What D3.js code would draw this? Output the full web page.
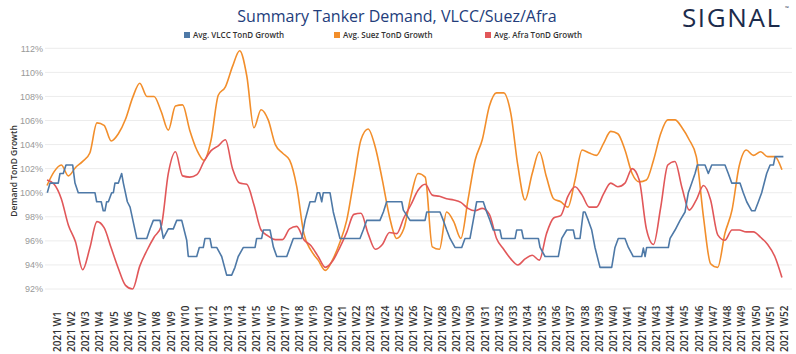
<!DOCTYPE html>
<html>
<head>
<meta charset="utf-8">
<script src="https://cdn.jsdelivr.net/npm/d3@7"></script>
<style>
  body { margin: 0; background: #fff; }
  svg { display: block; font-family: "Open Sans", sans-serif; }
</style>
</head>
<body>
<svg id="chart" width="796" height="354"></svg>
<script>
// week labels on the x axis and the y ticks (percent)
const weekLabels = d3.range(1, 53).map(w => `2021 W${w}`);
const yTicks = d3.range(92, 113, 2);

// suez and afra are sampled every half week, starting just before W1
const firstWeek = 0.3;
const weekStep = 0.5;

// vlcc moves in steps, so it is kept as breakpoints (week position, value)
const vlccWeeks = [
  0.32, 0.51, 1.09, 1.21, 1.44, 1.63, 2.10, 2.26, 2.49, 3.66, 3.78, 4.10, 4.24, 4.36, 4.48, 4.60,
  4.83, 4.95, 5.06, 5.30, 5.53, 5.65, 5.93, 6.12, 6.59, 7.29, 7.52, 7.75, 8.22, 8.45, 8.80, 9.15,
  9.39, 9.74, 10.09, 10.20, 10.79, 10.97, 11.25, 11.37, 11.72, 11.84, 12.19, 12.54, 12.89, 13.24,
  13.47, 13.70, 14.06, 14.88, 14.99, 15.34, 15.46, 15.93, 16.16, 16.40, 17.10, 17.33, 17.56, 18.15,
  18.38, 18.73, 19.08, 19.24, 19.40, 19.55, 19.66, 20.13, 20.36, 20.83, 22.23, 22.46, 22.70, 23.63,
  23.87, 24.10, 25.16, 25.27, 25.74, 26.79, 26.91, 27.84, 28.07, 28.31, 28.54, 28.89, 29.36, 29.59,
  29.94, 30.17, 30.41, 30.87, 31.11, 31.34, 31.57, 32.04, 32.16, 33.10, 33.21, 33.56, 33.68, 34.73,
  34.85, 35.20, 36.13, 36.37, 36.72, 37.18, 37.30, 37.65, 37.88, 38.00, 38.23, 38.47, 38.70, 39.05,
  39.87, 40.10, 40.33, 40.80, 41.04, 41.38, 41.97, 42.09, 42.21, 42.32, 43.84, 43.96, 44.31, 44.66,
  45.01, 45.24, 45.48, 45.71, 45.87, 46.41, 46.64, 46.88, 47.81, 48.04, 48.28, 48.86, 49.09, 49.33,
  49.68, 49.91, 50.15, 50.38, 50.73, 50.97, 51.20, 51.32, 51.90
];
const vlccValues = [
  100.0, 100.8, 100.8, 101.6, 101.6, 102.3, 102.3, 100.8, 100.0, 100.0, 99.25, 99.25, 98.5, 98.5, 99.25, 99.25,
  100.0, 100.0, 100.8, 100.8, 101.6, 100.8, 99.25, 98.8, 96.2, 96.2, 97.0, 97.7, 97.7, 96.2, 97.0, 97.0,
  97.7, 97.7, 96.05, 94.7, 94.7, 95.45, 95.45, 96.2, 96.2, 95.45, 95.45, 94.7, 93.15, 93.15,
  93.8, 94.7, 95.45, 95.45, 96.2, 96.2, 96.9, 96.9, 95.5, 94.7, 94.7, 95.45, 96.2, 96.2,
  97.7, 99.25, 99.25, 100.0, 100.0, 99.25, 100.0, 100.0, 98.4, 96.2, 96.2, 96.9, 97.7, 97.7,
  98.4, 99.25, 99.25, 98.55, 97.7, 97.7, 98.4, 98.4, 97.7, 96.9, 96.2, 95.45, 95.45, 96.2,
  96.2, 97.7, 99.25, 99.25, 98.4, 97.7, 96.9, 96.9, 96.2, 96.2, 96.9, 96.9, 96.2, 96.2,
  95.45, 94.7, 94.7, 96.2, 96.9, 96.9, 96.2, 96.2, 98.4, 98.4, 97.7, 96.9, 95.45, 93.8,
  93.8, 95.45, 96.2, 96.2, 95.45, 94.7, 94.7, 95.4, 94.7, 95.45, 95.45, 96.2, 96.9, 97.7,
  98.4, 100.0, 100.8, 101.6, 102.3, 102.3, 101.6, 102.3, 102.3, 101.6, 100.8, 100.8, 100.0, 99.25,
  98.5, 98.5, 99.25, 100.0, 101.6, 102.3, 102.3, 103.0, 103.0
];

const suez = [
  100.6, 101.75, 102.3, 101.4, 102.1, 102.6, 103.3, 105.8, 105.6, 104.3, 104.9, 106.1, 107.9, 109.1,
  108.0, 108.0, 106.75, 105.2, 107.2, 107.3, 105.2, 103.55, 102.7, 104.4, 108.1, 108.8, 110.5, 111.8,
  109.7, 105.4, 106.9, 106.05, 104.0, 103.3, 102.7, 100.5, 96.6, 95.2, 94.4, 93.55, 94.4,
  95.8, 97.7, 101.05, 104.4, 105.3, 103.8, 101.05, 98.0, 96.2, 97.0, 99.7, 101.6, 101.3,
  95.5, 95.3, 98.4, 97.6, 96.2, 99.4, 102.7, 104.4, 107.2, 108.3, 108.3, 106.6, 102.2,
  99.4, 101.6, 103.4, 101.3, 99.5, 99.25, 98.8, 101.05, 103.55, 103.3, 103.1, 104.1, 105.1,
  104.9, 103.55, 101.6, 100.9, 101.05, 102.7, 104.9, 106.05, 106.05, 105.4, 104.4, 103.0,
  98.0, 94.1, 93.8, 96.6, 98.55, 102.2, 103.55, 103.1, 103.4, 103.0, 103.0, 101.9
];

const afra = [
  101.05, 100.7, 99.5, 97.3, 95.9, 93.6, 95.4, 97.6, 97.1, 95.4, 93.7, 92.3, 92.0, 93.9,
  95.2, 96.3, 97.2, 101.6, 103.4, 101.4, 101.3, 101.5, 102.6, 103.5, 103.9, 104.4, 102.0, 100.8,
  100.7, 99.0, 96.9, 96.4, 96.1, 96.1, 97.0, 97.2, 96.1, 95.6, 94.7, 93.8, 94.3,
  95.4, 96.7, 98.2, 98.3, 96.6, 95.3, 95.7, 96.7, 96.6, 97.9, 99.0, 100.2, 100.7,
  99.8, 99.7, 99.5, 99.4, 99.2, 98.7, 98.5, 98.7, 98.2, 96.2, 95.3, 94.5, 94.0,
  94.5, 94.8, 94.4, 96.6, 97.9, 98.1, 99.7, 100.5, 99.8, 98.8, 98.8, 99.9, 100.8,
  100.5, 100.8, 102.0, 101.05, 97.0, 95.7, 98.75, 102.3, 102.6, 100.4, 98.55, 99.4,
  100.6, 99.4, 96.5, 96.05, 96.9, 96.9, 96.75, 96.75, 96.3, 95.7, 94.7, 92.95
];

const seriesNames = ["Avg. VLCC TonD Growth", "Avg. Suez TonD Growth", "Avg. Afra TonD Growth"];
const seriesColors = ["#4e79a7", "#f28e2b", "#e15759"];

const plot = {left: 45, right: 792, top: 48.3, bottom: 289};

const svg = d3.select("#chart");

const x = d3.scaleLinear().domain([1, 52]).range([57, 784.8]);
const y = d3.scaleLinear().domain([92, 112]).range([plot.bottom, plot.top]);

const sampled = values => values.map((v, i) => [firstWeek + i * weekStep, v]);
const paired = (weeks, values) => weeks.map((w, i) => [w, values[i]]);

// gridlines
svg.append("g")
  .selectAll("line")
  .data(yTicks)
  .join("line")
  .attr("x1", plot.left).attr("x2", plot.right)
  .attr("y1", d => y(d)).attr("y2", d => y(d))
  .attr("stroke", "#ececec")
  .attr("stroke-width", 1);

// y axis
const yAxis = svg.append("g")
  .attr("transform", `translate(${plot.left - 2},0)`)
  .call(d3.axisLeft(y).tickValues(yTicks).tickFormat(d => `${d}%`).tickSize(0).tickPadding(0));
yAxis.select(".domain").remove();
yAxis.selectAll("text")
  .attr("fill", "#999")
  .style("font-size", "9px");

svg.append("text")
  .attr("transform", "translate(14,171) rotate(-90)")
  .attr("text-anchor", "middle")
  .attr("dy", "0.35em")
  .attr("fill", "#333")
  .style("font-size", "8.5px")
  .style("font-weight", 600)
  .text("Demand TonD Growth");

// x axis labels, rotated and sitting on the bottom edge
svg.append("g")
  .selectAll("text")
  .data(weekLabels)
  .join("text")
  .attr("transform", (d, i) => `translate(${x(i + 1)},352) rotate(-90)`)
  .attr("dy", "0.35em")
  .attr("text-anchor", "start")
  .attr("fill", "#333")
  .style("font-size", "10px")
  .style("font-weight", 600)
  .text(d => d);

// lines: suez first, then afra, vlcc on top
const smoothLine = d3.line().x(d => x(d[0])).y(d => y(d[1])).curve(d3.curveMonotoneX);
const straightLine = d3.line().x(d => x(d[0])).y(d => y(d[1]));

const lines = [
  {points: sampled(suez), color: seriesColors[1], gen: smoothLine},
  {points: sampled(afra), color: seriesColors[2], gen: smoothLine},
  {points: paired(vlccWeeks, vlccValues), color: seriesColors[0], gen: straightLine},
];

svg.append("g")
  .selectAll("path")
  .data(lines)
  .join("path")
  .attr("d", d => d.gen(d.points))
  .attr("fill", "none")
  .attr("stroke", d => d.color)
  .attr("stroke-width", 1.6)
  .attr("stroke-linejoin", "round");

// title
svg.append("text")
  .attr("x", 397).attr("y", 22)
  .attr("text-anchor", "middle")
  .attr("fill", "#233d7b")
  .style("font-size", "16px")
  .text("Summary Tanker Demand, VLCC/Suez/Afra");

// legend
const legendX = [184, 334, 485];
const legend = svg.append("g")
  .selectAll("g")
  .data(seriesNames)
  .join("g")
  .attr("transform", (d, i) => `translate(${legendX[i]},35)`);
legend.append("rect")
  .attr("x", 0).attr("y", -3).attr("width", 6).attr("height", 6)
  .attr("fill", (d, i) => seriesColors[i]);
legend.append("text")
  .attr("x", 9).attr("dy", "0.35em")
  .attr("fill", "#333")
  .style("font-size", "8px")
  .style("font-weight", 600)
  .text(d => d);

// logo
svg.append("text")
  .attr("x", 682).attr("y", 27)
  .attr("fill", "#1c2b4b")
  .style("font-size", "26px")
  .style("letter-spacing", "1.6px")
  .text("SIGNAL");
svg.append("text")
  .attr("x", 785).attr("y", 10)
  .attr("fill", "#1c2b4b")
  .style("font-size", "5px")
  .text("™");
</script>
</body>
</html>
